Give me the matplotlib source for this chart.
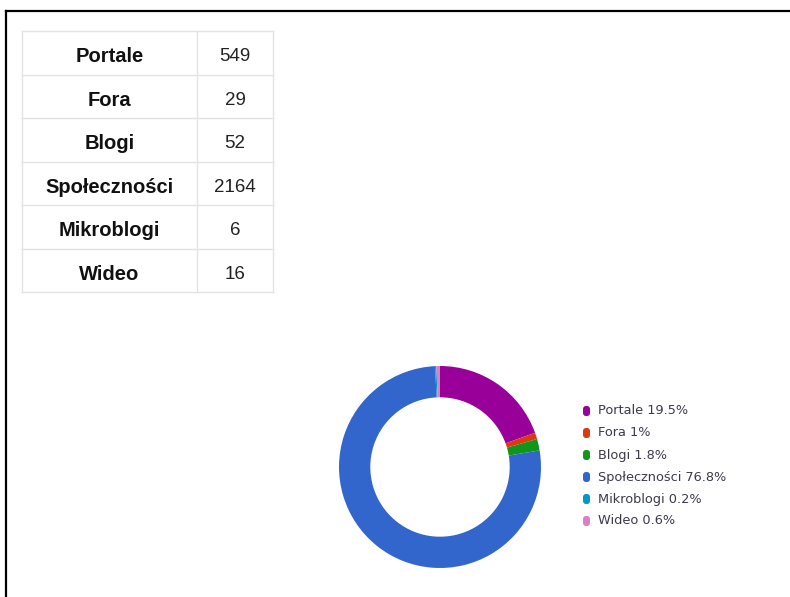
import matplotlib.pyplot as plt
from matplotlib.patches import FancyBboxPatch

# source counts
categories = ['Portale', 'Fora', 'Blogi', 'Społeczności', 'Mikroblogi', 'Wideo']
counts = [549, 29, 52, 2164, 6, 16]
colors = ['#990099', '#dc3912', '#109618', '#3366cc', '#0099c6', '#dd7fc4']

total = sum(counts)
shares = [c / total * 100 for c in counts]


def pct_label(p):
    s = '%.1f' % p
    if s.endswith('.0'):
        s = s[:-2]
    return s + '%'


W, H = 790, 597
fig = plt.figure(figsize=(W / 100, H / 100), dpi=100)

# overlay in pixel coordinates for the table, frame and legend
ax = fig.add_axes([0, 0, 1, 1])
ax.set_xlim(0, W)
ax.set_ylim(H, 0)
ax.axis('off')

# frame lines (top and left)
ax.plot([6, W], [11, 11], color='black', lw=1.6)
ax.plot([6, 6], [11, H], color='black', lw=1.6)

# table
tx0, tx1, tx2 = 22, 197, 273
ty0, row_h = 31, 43.5
grid = '#e3e3e3'
n = len(categories)
for i in range(n + 1):
    y = ty0 + i * row_h
    ax.plot([tx0, tx2], [y, y], color=grid, lw=1)
for x in (tx0, tx1, tx2):
    ax.plot([x, x], [ty0, ty0 + n * row_h], color=grid, lw=1)
for i, (name, c) in enumerate(zip(categories, counts)):
    yc = ty0 + (i + 0.5) * row_h + 4
    ax.text((tx0 + tx1) / 2, yc, name, ha='center', va='center',
            fontsize=14.5, fontweight='bold', family='Liberation Sans',
            color='#111111')
    ax.text((tx1 + tx2) / 2, yc, str(c), ha='center', va='center',
            fontsize=13.5, family='Liberation Sans', color='#222222')

# legend
lx, ly, dy = 583, 411, 22
for i, (name, p, col) in enumerate(zip(categories, shares, colors)):
    y = ly + i * dy
    ax.add_patch(FancyBboxPatch((lx, y - 5), 7, 10,
                                boxstyle='round,pad=0,rounding_size=3',
                                facecolor=col, edgecolor='none'))
    ax.text(lx + 15, y, '%s %s' % (name, pct_label(p)), ha='left',
            va='center', fontsize=9.3, family='DejaVu Sans', color='#3a3a4a')

# donut
cx, cy, r = 440, 467, 101
pax = fig.add_axes([(cx - r) / W, (H - cy - r) / H, 2 * r / W, 2 * r / H])
pax.pie(counts, colors=colors, startangle=90, counterclock=False,
        wedgeprops=dict(width=0.31, edgecolor='none'))
pax.set_xlim(-1, 1)
pax.set_ylim(-1, 1)
pax.set_aspect('equal')
pax.axis('off')

fig.savefig('out.png', dpi=100)
